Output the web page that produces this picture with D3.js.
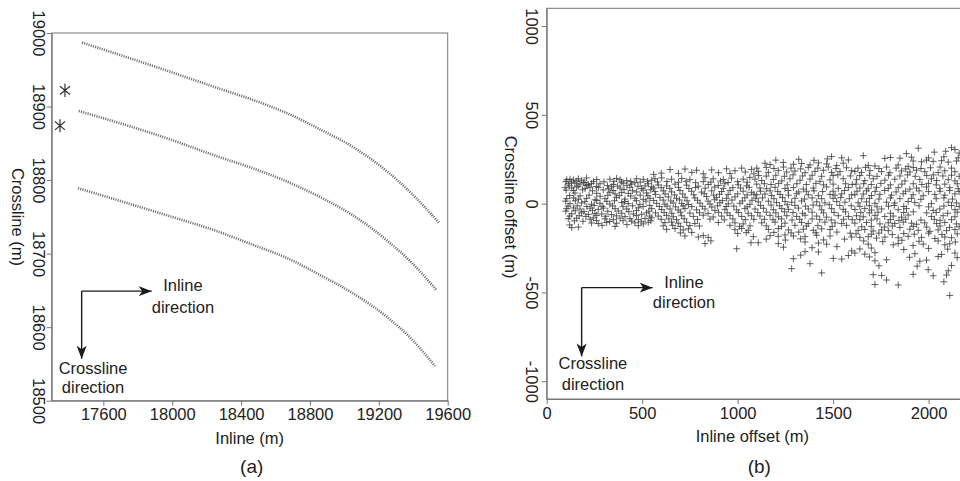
<!DOCTYPE html>
<html>
<head>
<meta charset="utf-8">
<script src="https://cdn.jsdelivr.net/npm/d3@7"></script>
<style>
    body { margin: 0; background: #fff; }
    svg { display: block; font-family: "Liberation Sans", Arial, sans-serif; }
    .axis path, .axis line { stroke: #777; }
    .axis text { fill: #222; font-size: 16.5px; }
</style>
</head>
<body>
<svg id="chart" width="960" height="481"></svg>
<script>
// ---------- panel (a): receiver lines, inline / crossline (m) ----------
const inlineTicksA = [17600, 18000, 18400, 18800, 19200, 19600];
const crosslineTicksA = [18500, 18600, 18700, 18800, 18900, 19000];

const lineTop = [[17476, 18987], [17929, 18952], [18278, 18924], [18469, 18909], [18666, 18891],
    [18858, 18869], [19050, 18845], [19247, 18812], [19398, 18780], [19549, 18742]];
const lineMid = [[17457, 18894], [17929, 18860], [18278, 18831], [18469, 18816], [18666, 18798],
    [18858, 18777], [19050, 18752], [19247, 18718], [19398, 18686], [19536, 18650]];
const lineLow = [[17453, 18789], [17929, 18755], [18278, 18729], [18469, 18712], [18666, 18694],
    [18858, 18671], [19050, 18646], [19247, 18614], [19398, 18582], [19526, 18547]];
const sources = [[17377, 18922], [17348, 18874]];

// ---------- panel (b): offsets (m) ----------
const inlineTicksB = [0, 500, 1000, 1500, 2000];
const crosslineTicksB = [-1000, -500, 0, 500, 1000];

const offsets = [
    // 0 - 550 m
    [105,135],[122,138],[140,133],[166,140],[183,132],[209,145],[262,136],[331,138],[366,142],[384,135],[419,130],[471,140],[506,137],[550,132],
    [113,112],[148,115],[174,110],[192,118],[218,108],[235,114],[279,112],[349,108],[401,115],[445,110],[462,118],[532,112],
    [96,90],[131,88],[157,94],[201,86],[227,92],[270,90],[323,84],[340,95],[384,88],[436,92],[497,86],[550,95],
    [148,60],[262,58],[331,64],[358,55],[393,62],[427,58],[471,66],[523,60],
    [105,28],[140,32],[166,25],[209,30],[253,22],[305,28],[366,34],[410,26],[462,30],[506,24],[541,30],
    [122,0],[183,4],[235,-3],[279,2],[331,-2],[393,6],[427,0],[488,-4],
    [105,-28],[140,-24],[174,-30],[227,-26],[270,-32],[297,-25],[358,-28],[419,-30],[480,-24],[550,-28],
    [131,-57],[183,-52],[218,-60],[253,-55],[288,-58],[340,-62],[393,-54],[454,-58],[497,-60],[523,-52],
    [113,-85],[157,-82],[227,-88],[244,-80],[305,-86],[349,-90],[384,-82],[436,-85],[480,-90],[515,-84],[550,-80],
    [235,-109],[270,-112],[314,-106],[366,-110],[462,-108],[506,-114],[532,-105],
    [131,-135],[166,-132],[358,-128],
    // 550 - 1090 m
    [646,192],[724,195],[785,188],[864,190],[942,196],[986,185],[1021,200],[1073,193],
    [567,140],[602,145],[654,138],[707,142],[750,135],[829,146],[872,140],[925,136],[968,144],[1029,138],[1064,148],
    [584,105],[628,100],[672,110],[733,104],[794,98],[846,108],[899,102],[933,112],[1003,106],[1047,100],
    [567,68],[611,72],[654,66],[698,74],[759,70],[811,65],[864,72],[916,68],[960,75],[1029,70],[1073,64],
    [593,35],[637,38],[680,30],[724,36],[776,32],[837,40],[890,34],[942,30],[986,38],[1038,33],
    [576,2],[619,-3],[663,4],[707,0],[742,-5],[803,3],[855,-2],[907,5],[951,-1],[1012,2],[1064,-4],
    [602,-33],[646,-30],[689,-36],[724,-28],[785,-35],[829,-30],[881,-38],[933,-32],[995,-35],[1038,-28],
    [584,-70],[628,-66],[663,-74],[707,-68],[768,-72],[820,-65],[872,-75],[916,-70],[960,-66],[1021,-72],[1073,-68],
    [619,-107],[654,-104],[689,-110],[733,-105],[776,-112],[899,-106],[986,-108],[1029,-114],
    [628,-145],[672,-140],[715,-148],[742,-142],[986,-146],[1021,-140],[1056,-150],
    [724,-182],[794,-188],[820,-180],[846,-190],[1082,-186],
    [829,-225],[995,-254],
    // 1090 - 1610 m
    [1492,265],[1545,258],
    [1143,228],[1170,220],[1239,232],[1292,222],[1335,226],[1379,218],[1423,230],[1466,224],[1519,215],[1553,228],
    [1108,182],[1161,176],[1213,186],[1257,178],[1300,184],[1353,174],[1405,182],[1449,188],[1492,176],[1536,180],[1597,185],
    [1091,138],[1126,130],[1187,136],[1231,128],[1274,140],[1327,132],[1379,138],[1431,126],[1484,134],[1553,140],
    [1117,88],[1152,84],[1196,92],[1248,85],[1292,90],[1344,82],[1396,88],[1466,94],[1527,86],[1580,90],
    [1100,50],[1143,54],[1178,46],[1222,52],[1266,48],[1309,56],[1370,50],[1423,45],[1484,52],[1510,48],[1545,55],[1597,50],
    [1108,10],[1161,14],[1204,6],[1248,12],[1283,8],[1335,15],[1414,10],[1457,4],[1519,12],[1562,8],
    [1091,-30],[1135,-26],[1187,-34],[1231,-28],[1266,-32],[1318,-25],[1370,-30],[1440,-35],[1492,-28],[1553,-32],
    [1117,-70],[1170,-66],[1213,-74],[1257,-68],[1309,-72],[1353,-65],[1414,-70],[1466,-76],[1527,-68],[1580,-72],
    [1126,-108],[1196,-104],[1248,-110],[1335,-106],[1370,-112],[1457,-104],[1510,-108],[1545,-112],
    [1161,-145],[1213,-140],[1266,-148],[1344,-144],[1396,-150],[1440,-142],[1484,-146],
    [1170,-180],[1213,-184],[1248,-176],[1292,-182],[1353,-186],[1414,-178],[1484,-182],[1597,-188],
    [1108,-220],[1213,-225],[1353,-216],[1423,-222],[1466,-228],
    [1353,-270],[1423,-272],[1597,-266],
    [1292,-310],[1501,-308],[1545,-312],
    [1379,-338],[1283,-366],[1440,-390],
    // 1610 m and beyond
    [1946,312],[2120,315],[2138,305],[1884,282],[1658,270],[1771,255],
    [1919,240],[1963,236],[1989,245],[2024,238],[2068,242],[2103,234],[2146,240],
    [1684,215],[1719,212],[1841,218],[1893,210],
    [1614,182],[1649,176],[1693,186],[1754,180],[1797,174],[1858,184],[1902,178],[1937,188],[1980,180],[2050,175],[2085,185],[2138,180],
    [1623,135],[1666,130],[1710,140],[1771,132],[1823,138],[1876,128],[1954,136],[2015,140],[2042,130],[2103,135],[2138,128],
    [1640,88],[1684,84],[1727,92],[1789,86],[1841,90],[1902,82],[1937,88],[1989,94],[2059,86],[2111,90],[2155,84],
    [1614,50],[1658,54],[1701,46],[1745,52],[1806,48],[1867,56],[1919,50],[1972,45],[2033,52],[2085,48],[2138,55],
    [1631,5],[1675,10],[1719,2],[1780,8],[1823,4],[1893,12],[1928,6],[2015,0],[2103,8],[2146,4],
    [1614,-33],[1666,-28],[1701,-36],[1754,-30],[1841,-34],[1884,-28],[2024,-38],[2059,-30],[2138,-34],
    [1623,-68],[1658,-74],[1719,-66],[1771,-72],[1815,-70],[1858,-76],[1893,-64],[2015,-72],[2076,-68],[2138,-74],
    [1614,-110],[1675,-106],[1745,-114],[1789,-108],[1823,-112],[1867,-104],[1911,-110],[1937,-116],[1980,-108],[2042,-112],[2085,-106],[2146,-114],
    [1631,-150],[1666,-146],[1710,-154],[1754,-148],[1789,-152],[1902,-144],[1946,-150],[2007,-156],[2050,-148],[2094,-152],[2138,-146],
    [1640,-190],[1684,-186],[1727,-194],[1771,-188],[1841,-192],[1893,-184],[1963,-190],[2033,-196],[2085,-188],[2120,-192],
    [1684,-228],[1815,-232],[1841,-224],[1919,-236],[1972,-228],[2085,-232],[2111,-226],
    [1614,-278],[1666,-284],[1719,-276],[1928,-282],[2068,-286],[2138,-278],
    [1719,-322],[1780,-316],[1954,-324],[1989,-318],
    [1998,-372],[2103,-378],
    [1710,-400],[1754,-404],[1919,-398],[2024,-406],[2094,-402],
    [1719,-455],[1841,-458],[2111,-517]
];

// second pass of offsets read between the rows above (the cloud overlaps heavily)
const offsetsDense = [
    [100,124],[130,122],[158,126],[200,120],[245,125],[300,123],[352,126],[392,122],[440,124],[490,121],[528,126],
    [118,100],[165,98],[210,102],[260,97],[318,101],[372,99],[420,103],[478,98],[515,100],
    [102,76],[140,74],[188,78],[240,72],[296,77],[348,74],[405,79],[450,73],[505,76],[545,78],
    [120,46],[175,44],[222,48],[280,42],[320,47],[380,45],[440,43],[490,48],[530,44],
    [98,14],[150,16],[200,12],[262,18],[315,13],[355,16],[408,12],[470,17],[520,14],
    [112,-14],[160,-12],[210,-16],[248,-10],[290,-15],[345,-13],[400,-17],[450,-12],[505,-16],[540,-10],
    [100,-42],[150,-40],[195,-44],[240,-38],[320,-43],[375,-41],[430,-45],[470,-39],[535,-42],
    [120,-70],[170,-68],[205,-72],[262,-66],[310,-71],[365,-69],[410,-73],[470,-67],[540,-70],
    [145,-97],[190,-99],[260,-95],[330,-100],[400,-96],[445,-98],[495,-102],[545,-96],
    [120,-120],[290,-122],[420,-118],[480,-124],
    [560,165],[600,172],[690,170],[760,176],[820,168],[900,174],[960,170],[1040,178],[1085,168],
    [580,122],[630,125],[690,120],[730,126],[780,118],[820,124],[860,121],[910,127],[950,119],[1000,124],[1050,121],
    [560,88],[600,90],[645,86],[690,92],[745,85],[780,91],[830,87],[880,93],[925,86],[975,90],[1015,88],[1060,92],
    [570,52],[620,55],[670,49],[712,54],[770,50],[825,56],[875,48],[905,53],[950,51],[1000,55],[1050,49],[1085,53],
    [560,18],[610,20],[650,15],[695,21],[735,16],[790,19],[845,14],[880,22],[920,17],[970,20],[1025,15],[1075,19],
    [590,-16],[630,-14],[675,-18],[715,-13],[760,-17],[815,-15],[865,-19],[895,-12],[940,-16],[980,-14],[1050,-18],
    [570,-52],[615,-50],[655,-54],[700,-48],[750,-53],[800,-51],[845,-55],[900,-49],[945,-52],[1005,-50],[1055,-54],
    [600,-88],[640,-86],[680,-90],[720,-85],[790,-89],[855,-87],[930,-91],[975,-86],[1040,-90],[1085,-88],
    [610,-125],[660,-122],[700,-128],[750,-124],[800,-126],[960,-122],[1010,-128],[1065,-125],
    [700,-165],[760,-162],[1000,-168],[1045,-163],
    [860,-210],[1070,-220],
    [1200,245],[1320,250],[1400,244],[1470,252],[1580,246],
    [1100,200],[1150,204],[1190,198],[1240,206],[1280,200],[1330,196],[1370,204],[1420,200],[1475,206],[1515,198],[1570,202],
    [1110,158],[1150,155],[1200,160],[1245,154],[1290,162],[1340,156],[1390,160],[1440,154],[1500,158],[1525,162],[1590,156],
    [1100,110],[1140,112],[1175,108],[1215,114],[1260,106],[1310,112],[1360,108],[1410,114],[1450,106],[1500,110],[1565,112],[1600,108],
    [1120,70],[1170,72],[1210,68],[1265,74],[1320,66],[1360,70],[1400,72],[1445,68],[1500,70],[1560,74],
    [1095,30],[1130,32],[1190,28],[1235,34],[1300,30],[1350,26],[1390,32],[1440,28],[1500,30],[1540,34],[1585,28],
    [1120,-10],[1175,-8],[1220,-12],[1260,-6],[1300,-10],[1355,-14],[1395,-8],[1430,-12],[1480,-6],[1535,-10],[1595,-12],
    [1105,-50],[1150,-48],[1200,-52],[1245,-46],[1290,-50],[1340,-54],[1390,-48],[1450,-52],[1505,-50],[1565,-46],
    [1140,-88],[1185,-90],[1230,-86],[1285,-92],[1325,-88],[1390,-86],[1430,-90],[1490,-92],[1555,-88],[1600,-90],
    [1150,-125],[1230,-128],[1300,-122],[1360,-126],[1420,-124],[1495,-128],[1570,-122],
    [1190,-162],[1280,-165],[1320,-160],[1410,-164],[1520,-160],[1590,-166],
    [1150,-200],[1250,-205],[1330,-198],[1450,-204],[1560,-200],
    [1240,-245],[1390,-248],[1520,-242],
    [1330,-290],[1580,-292],
    [2030,290],[2090,295],[2160,285],
    [1800,260],[1850,256],[1910,262],[2000,258],[2080,264],[2155,258],
    [1630,200],[1670,204],[1740,198],[1780,206],[1830,200],[1880,196],[1920,204],[1960,198],[2010,202],[2060,206],[2120,200],
    [1640,158],[1690,160],[1730,154],[1790,160],[1850,156],[1890,162],[1930,154],[1990,158],[2025,162],[2075,156],[2120,160],[2160,154],
    [1620,110],[1660,112],[1700,108],[1750,114],[1800,106],[1860,110],[1920,112],[1965,108],[2000,114],[2040,106],[2085,110],[2150,112],
    [1625,70],[1675,72],[1720,68],[1770,74],[1830,66],[1880,70],[1950,72],[2000,68],[2060,70],[2110,74],[2160,68],
    [1650,28],[1690,30],[1740,26],[1800,32],[1850,28],[1910,30],[1960,24],[2040,28],[2080,32],[2125,26],
    [1640,-15],[1690,-12],[1730,-18],[1790,-14],[1820,-10],[1870,-16],[1950,-12],[2000,-18],[2080,-14],[2120,-10],[2160,-16],
    [1645,-50],[1690,-52],[1735,-48],[1800,-54],[1870,-50],[1920,-46],[1990,-52],[2040,-50],[2100,-54],[2150,-48],
    [1640,-90],[1700,-92],[1730,-86],[1800,-90],[1845,-94],[1880,-88],[1960,-92],[2030,-88],[2060,-94],[2120,-90],
    [1650,-130],[1700,-128],[1770,-132],[1810,-126],[1850,-134],[1920,-128],[1990,-132],[2060,-126],[2110,-134],[2160,-130],
    [1620,-170],[1700,-172],[1740,-166],[1810,-174],[1870,-168],[1925,-172],[2000,-166],[2070,-174],[2150,-170],
    [1660,-210],[1760,-214],[1860,-206],[1950,-212],[2050,-210],[2140,-216],
    [1640,-255],[1700,-250],[1870,-258],[2000,-252],[2100,-256],
    [1690,-300],[1900,-302],[2050,-298],[2150,-304],
    [1740,-350],[1940,-352],[2120,-348],
    [1780,-430],[2080,-440]
];

// direction arrows, in each panel's data units
const arrowA = { origin: [17474, 18649], inlineEnd: 17881, crossEnd: 18557,
    inlineText: [18062, 18657, 18628], crossText: [17540, 18545, 18519] };
const arrowB = { origin: [183, -473], inlineEnd: 555, crossEnd: -860,
    inlineText: [719, -442, -554], crossText: [242, -900, -1018] };

const svg = d3.select("#chart");

const defs = svg.append("defs");
defs.append("marker")
    .attr("id", "head")
    .attr("viewBox", "-13 -6 14 12")
    .attr("refX", 0).attr("refY", 0)
    .attr("markerWidth", 14).attr("markerHeight", 12)
    .attr("markerUnits", "userSpaceOnUse")
    .attr("orient", "auto")
    .append("path")
    .attr("d", "M0,0L-13,-5L-9.5,0L-13,5Z")
    .attr("fill", "#1a1a1a");

function drawPanel(cfg) {
    const g = svg.append("g");
    const x = cfg.x, y = cfg.y;
    const [x0, x1] = x.range();
    const [y0, y1] = y.range();

    g.append("rect")
        .attr("x", x0).attr("y", y1)
        .attr("width", x1 - x0).attr("height", y0 - y1)
        .attr("fill", "none").attr("stroke", "#777").attr("stroke-width", 1);

    g.append("g").attr("class", "axis")
        .attr("transform", `translate(0,${y0})`)
        .call(d3.axisBottom(x).tickValues(cfg.xTicks).tickSize(5).tickPadding(3).tickSizeOuter(0).tickFormat(d => String(d)));

    const ya = g.append("g").attr("class", "axis")
        .attr("transform", `translate(${x0},0)`)
        .call(d3.axisLeft(y).tickValues(cfg.yTicks).tickSize(5).tickSizeOuter(0).tickFormat(d => String(d)));
    ya.selectAll("text")
        .attr("x", null).attr("dy", null)
        .attr("text-anchor", "middle")
        .attr("dominant-baseline", "central")
        .attr("transform", `translate(${cfg.yTickOffset},0) rotate(90)`);

    g.append("text")
        .attr("text-anchor", "middle")
        .attr("x", (x0 + x1) / 2 + (cfg.xTitleShift || 0))
        .attr("y", y0 + 43)
        .attr("fill", "#222").style("font-size", "16.5px")
        .text(cfg.xTitle);

    g.append("text")
        .attr("text-anchor", "middle")
        .attr("dominant-baseline", "central")
        .attr("transform", `translate(${cfg.yTitleX},${cfg.yTitleY}) rotate(90)`)
        .attr("fill", "#222").style("font-size", "16.5px")
        .text(cfg.yTitle);

    g.append("text")
        .attr("text-anchor", "middle")
        .attr("x", (x0 + x1) / 2 + (cfg.tagShift || 0))
        .attr("y", 473)
        .attr("fill", "#222").style("font-size", "19px")
        .text(cfg.tag);

    // direction arrows
    const a = cfg.arrow;
    const ox = x(a.origin[0]), oy = y(a.origin[1]);
    g.append("path")
        .attr("d", `M${ox},${oy}H${x(a.inlineEnd)}`)
        .attr("stroke", "#1a1a1a").attr("stroke-width", 1.4).attr("fill", "none")
        .attr("marker-end", "url(#head)");
    g.append("path")
        .attr("d", `M${ox},${oy}V${y(a.crossEnd)}`)
        .attr("stroke", "#1a1a1a").attr("stroke-width", 1.4).attr("fill", "none")
        .attr("marker-end", "url(#head)");

    const labels = [
        [a.inlineText[0], a.inlineText[1], "Inline"],
        [a.inlineText[0], a.inlineText[2], "direction"],
        [a.crossText[0], a.crossText[1], "Crossline"],
        [a.crossText[0], a.crossText[2], "direction"]
    ];
    g.selectAll("text.note").data(labels).join("text")
        .attr("class", "note")
        .attr("x", d => x(d[0])).attr("y", d => y(d[1]))
        .attr("text-anchor", "middle")
        .attr("dominant-baseline", "central")
        .attr("fill", "#222").style("font-size", "16.5px")
        .text(d => d[2]);

    return g;
}

// ---------- (a) ----------
const xA = d3.scaleLinear().domain([17300, 19600]).range([51.7, 447.7]);
const yA = d3.scaleLinear().domain([18500, 19000]).range([400.7, 33]);

const gA = drawPanel({
    x: xA, y: yA, xTicks: inlineTicksA, yTicks: crosslineTicksA,
    xTitle: "Inline (m)", yTitle: "Crossline (m)", tag: "(a)",
    yTickOffset: -13, yTitleX: 18, yTitleY: 217, tagShift: 2,
    arrow: arrowA
});

const line = d3.line().x(d => xA(d[0])).y(d => yA(d[1])).curve(d3.curveMonotoneX);
gA.selectAll("path.rx").data([lineTop, lineMid, lineLow]).join("path")
    .attr("class", "rx")
    .attr("d", line)
    .attr("fill", "none")
    .attr("stroke", "#6e6e6e")
    .attr("stroke-width", 2.6)
    .attr("stroke-dasharray", "1.1,1.2");

// six-armed star like the shot markers
const star = {
    draw(ctx, size) {
        const r = Math.sqrt(size) / 2;
        const dx = r * Math.cos(Math.PI / 4.5), dy = r * Math.sin(Math.PI / 4.5);
        ctx.moveTo(0, -r); ctx.lineTo(0, r);
        ctx.moveTo(-dx, -dy); ctx.lineTo(dx, dy);
        ctx.moveTo(-dx, dy); ctx.lineTo(dx, -dy);
    }
};
gA.selectAll("path.src").data(sources).join("path")
    .attr("class", "src")
    .attr("transform", d => `translate(${xA(d[0])},${yA(d[1])})`)
    .attr("d", d3.symbol(star, 170))
    .attr("fill", "none").attr("stroke", "#333").attr("stroke-width", 1.2);

// ---------- (b) ----------
const xB = d3.scaleLinear().domain([0, 2175]).range([546.7, 962]);
const yB = d3.scaleLinear().domain([-1100, 1100]).range([399, 8.3]);

const gB = drawPanel({
    x: xB, y: yB, xTicks: inlineTicksB, yTicks: crosslineTicksB,
    xTitle: "Inline offset (m)", yTitle: "Crossline offset (m)", tag: "(b)",
    xTitleShift: -2, yTickOffset: -15, yTitleX: 511, yTitleY: 207, tagShift: 5,
    arrow: arrowB
});

const plus = d3.symbol(d3.symbolPlus || d3.symbolCross, 17);
gB.selectAll("path.off").data(offsets.concat(offsetsDense)).join("path")
    .attr("class", "off")
    .attr("transform", d => `translate(${xB(d[0])},${yB(d[1])})`)
    .attr("d", plus)
    .attr("fill", "none")
    .attr("stroke", "#3a3a3a")
    .attr("stroke-opacity", 0.8)
    .attr("stroke-width", 1);
</script>
</body>
</html>
